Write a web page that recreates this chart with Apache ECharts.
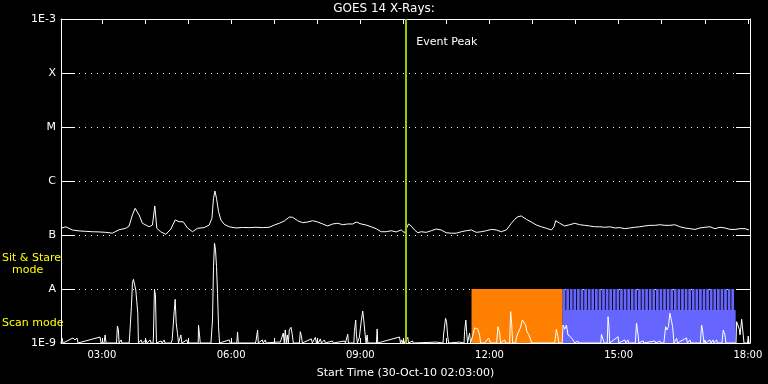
<!DOCTYPE html>
<html><head><meta charset="utf-8">
<script src="https://cdn.jsdelivr.net/npm/echarts@6/dist/echarts.min.js"></script>
<style>html,body{margin:0;padding:0;background:#000;}#c{width:768px;height:384px;}</style>
</head><body><div id="c"></div>
<script>
// ---- data ----
const chartTitle = 'GOES 14 X-Rays:';
const xTitle = 'Start Time (30-Oct-10 02:03:00)';
const yTickLabels = ['1E-9', 'A', 'B', 'C', 'M', 'X', '1E-3'];
const startClock = [2, 3];          // 02:03 UT
const spanMinutes = 960;
const tickHours = [3,4,5,6,7,8,9,10,11,12,13,14,15,16,17,18];
const labelHours = [3,6,9,12,15,18];
const eventMinute = 481;
const eventLabel = 'Event Peak';
const modeLabels = ['Sit & Stare', 'mode', 'Scan mode'];

// long channel: minutes after start, flux in units of 1e-7 W/m2
const fluxMinutes = [0,6.6,15.8,25.1,34.5,43.7,53,62.4,71.6,80.9,90.3,94.9,99.5,103.3,108.8,113.4,118.2,122.8,127.4,130.7,133.5,139.1,146.1,153.1,159.1,164.6,170.2,176.2,183.2,190.2,199.5,206.5,210.3,212.5,214.5,216.7,219.5,222.8,227.4,234.4,243.8,253,262.3,271.7,280.9,290.2,297.2,304.2,311.2,318.1,322.7,329.7,336.7,343.7,350.6,357.6,364.6,371.6,378.5,385.5,392.5,399.5,406.5,411.2,418.2,425.1,432.1,439.1,446.1,453.1,460,467,474,478.6,484.2,487.9,492.5,497.2,501.9,508.9,515.9,522.8,529.8,536.8,543.8,550.7,557.7,564.7,571.7,578.7,585.6,592.6,599.6,606.5,613.5,620.5,627.5,632.1,636.7,641.4,648.4,655.4,662.4,669.3,676.3,683.3,686.9,689.3,694.9,701.8,708.8,715.8,722.8,729.8,736.7,743.7,750.7,757.7,764.6,771.6,778.6,785.6,792.6,799.5,806.5,813.5,820.5,827.4,834.4,841.4,848.4,855.3,862.3,869.3,876.3,883.3,890.2,897.2,904.2,911.2,918.2,925.1,932.1,939.1,946.1,953.1,958.6];
const fluxB = [1.33,1.42,1.24,1.19,1.17,1.15,1.14,1.12,1.08,1.25,1.33,1.47,2.35,3.12,2.35,1.65,1.53,1.42,1.53,3.44,1.33,1.14,1.03,1.29,1.90,1.76,1.76,1.35,1.15,1.33,1.37,1.53,2.04,4.78,6.52,4.78,2.70,1.90,1.58,1.42,1.35,1.38,1.37,1.39,1.37,1.39,1.53,1.65,1.82,2.15,2.13,1.84,1.69,1.74,1.84,1.74,1.60,1.47,1.60,1.65,1.55,1.60,1.60,1.74,1.60,1.53,1.42,1.31,1.15,1.15,1.20,1.14,1.24,1.10,1.60,1.47,1.24,1.10,1.15,1.12,1.20,1.29,1.24,1.10,1.08,1.08,1.15,1.20,1.24,1.12,1.15,1.20,1.27,1.24,1.15,1.24,1.65,1.95,2.18,2.25,1.95,1.74,1.53,1.42,1.33,1.24,1.42,1.84,1.65,1.47,1.55,1.65,1.55,1.51,1.47,1.42,1.42,1.39,1.42,1.35,1.37,1.31,1.35,1.39,1.42,1.47,1.51,1.51,1.55,1.51,1.51,1.55,1.42,1.35,1.31,1.27,1.35,1.39,1.42,1.31,1.39,1.35,1.27,1.27,1.31,1.31,1.24];

// short channel: minutes after start, flux in units of 1e-9 W/m2
const lowMinutes = [0,1.4,2.8,16.7,19.5,22.3,23.7,54.4,55.8,60,61.4,62.8,77.4,78.6,80,80.9,83.7,85.1,94.9,95.9,98.1,99.5,100.9,102.8,104.2,105.6,107,107.9,111.6,113,118.6,120,124.2,125.6,128.4,128.8,130.2,131.6,133,139.5,140.9,143.7,145.1,153.1,154.9,157.7,159.1,160.5,162.3,163.7,167,168.4,175.4,176.5,191.2,191.6,193,194,208.9,211.1,212.5,213.9,215.3,216.7,218.1,219.5,220.9,234.4,235.8,244.9,246,247,270.7,271.7,273.9,274.9,280.5,281.8,284.6,286,300,301.4,305.6,307,309.7,311.1,312.5,313.9,315.3,316.7,318.1,320.5,322.3,323.7,332.1,333.5,334.9,336.3,348.8,350.2,354.4,355.8,357.2,358.6,361.4,362.8,367,368.4,378.1,379.5,394.9,396.3,399.5,400.5,408.1,408.8,410.6,411.6,413,415.1,415.8,418.2,420.4,421.8,423.8,425.1,426.5,427.6,439.5,440.5,441.3,471.6,473,474.4,475.8,477.2,478.6,483.2,484.2,489.8,491.1,523.3,524.6,532.3,533,535.8,537.2,538.6,540,555.3,556.7,561.6,562.3,564.1,565.5,566.5,569.3,570.7,573.5,576.3,578.4,580.5,583.3,584.6,590.2,595.8,597.2,598.6,607,608.8,611.2,612.5,618.1,619.5,625.1,626.5,627.9,629.3,633.5,634.5,636.7,640.1,642.8,644.6,647.4,649.2,652,654.4,655.8,687.9,690.2,692.5,693.5,698.3,699.5,701.8,704.2,706.4,709.8,713.4,715.8,720,721.4,752.1,753,755.3,756.9,761.1,762.2,763.6,764.6,776.2,777.2,785.6,787,789.8,791.2,800.2,801.9,804.1,805.1,811.1,812.1,827.4,828.8,834.4,835.8,840,842.4,844.2,846.3,848.4,850.8,852.2,854,857.8,858.9,871.6,872.7,876.3,877.7,890.9,892.5,893.9,895.8,897.2,898.6,904.2,905.6,908.4,909.8,913.5,914.6,920.9,922.7,925.1,926.5,940.5,941.4,943.7,945.1,946.1,948.4,950.7,951.6,956.5,957.6,958.6];
const lowVals = [1,1.24,1,1.24,1.14,1.24,1,1.29,1,1,1.41,1,1,2.06,1.74,1,1.14,1,1,1.51,4.70,12.8,15.1,14.3,9.58,5.82,3.55,1,1.14,1,1.14,1,1.14,1,1,1.35,9.87,7.74,1,1.09,1,1.14,1,1,1.14,3.80,6.45,2.35,1.51,1,1.41,1,1.14,1,1,2.15,1.41,1,1,2.67,25.9,70.2,52.7,25.9,8.33,2.00,1,1.14,1,1,1.60,1,1,1.09,1.74,1,1.14,1,1.14,1,1.04,1,1.04,1,1.53,1,1.74,1,1.41,1,1.74,1.95,1.41,1,1,1.62,1.35,1,1.19,1,1.27,1,1.14,1,1.19,1,1.14,1,1.09,1,1.09,1,1.45,1,1,1.62,2.67,1.41,1,1,1.29,2.48,3.91,2.67,1.41,1,1.41,1,1,1.82,1,1.29,1,1.14,1,1.19,1,1.27,1,1.09,1,1.04,1,1,1.41,2.87,2.48,1.41,1,1.04,1,1,1.62,2.67,1.41,1,1.53,1,1.35,1.90,1.95,1.82,1.41,1,1,1.24,1.35,1,1,2.00,1.53,1,1.14,1,1,3.80,2.35,1,1,1.24,1.53,1.90,2.67,2.59,2.15,1.62,1.41,1.14,1,1,1.79,1.31,1,1,2.15,1.80,2.15,1.41,1.31,1.14,1,1.09,1,1,1.45,1.41,1,1,3.07,1.90,1,1.31,1,1.14,1,1.14,1,1,2.32,1.41,1,1.10,1,1.09,1,1.09,1,1,2.00,1.74,2.00,3.55,2.48,2.00,1,1.22,1,1.24,1,1.14,1,1,2.15,1.74,1,1.14,1,1.14,1,1.14,1,1.14,1,1,1.74,1.41,1,1,2.48,2.48,1.80,1.41,2.75,1.35,1,1,1.35,1];

// observing modes: [startMin, endMin, lowFlux(1e-9), highFlux(1e-9)]
const sitStareBlocks = [[572, 699, 1, 10]];
const scanBase = [[699, 940, 1, 4.08]];
const scanStripeStarts = [699,704,709,714,719,724,729,734,739,744,749,754,759,764,769,774,779,784,789,794,799,804,809,814,819,824,829,834,839,844,849,854,859,864,869,874,879,884,889,894,899,904,909,914,919,924,929,934];
const scanStripeLen = 3.8;

// ---- build (x = minutes of day) ----
const x0 = startClock[0] * 60 + startClock[1];
const xm = m => x0 + m;
const upperData = fluxMinutes.map((m, i) => [xm(m), fluxB[i] * 1e-7]);
const lowerData = lowMinutes.map((m, i) => [xm(m), lowVals[i] * 1e-9]);
const toRect = b => [xm(b[0]), xm(b[1]), b[2] * 1e-9, b[3] * 1e-9];
const orangeData = sitStareBlocks.map(toRect);
const blueData = scanBase.map(toRect).concat(
  scanStripeStarts.map(s => [xm(s), xm(Math.min(s + scanStripeLen, scanBase[0][1])), 4.08e-9, 1e-8]));

function rectRender(color) {
  return function (params, api) {
    const a = api.coord([api.value(0), api.value(3)]);
    const b = api.coord([api.value(1), api.value(2)]);
    return { type: 'rect', shape: { x: a[0], y: a[1], width: b[0] - a[0], height: b[1] - a[1] },
      style: { fill: color } };
  };
}
const pad = n => (n < 10 ? '0' : '') + n;
const FONT = 'DejaVu Sans';
const chart = echarts.init(document.getElementById('c'));
const yBase = {
  type: 'log', logBase: 10, min: 1e-9, max: 1e-3, interval: 1,
  axisLine: { show: true, lineStyle: { color: '#fff', width: 1 } },
  axisTick: { show: true, inside: true, length: 14, lineStyle: { color: '#fff' } },
};
const xBase = {
  type: 'value', min: xm(0), max: xm(spanMinutes),
  axisLine: { lineStyle: { color: '#fff' } },
  axisTick: { show: true, inside: true, length: 5, lineStyle: { color: '#fff' },
    customValues: tickHours.map(h => h * 60) },
  splitLine: { show: false },
};
chart.setOption({
  animation: false,
  backgroundColor: '#000',
  title: { text: chartTitle, left: 'center', top: 3, padding: 0,
    textStyle: { color: '#fff', fontSize: 12, fontWeight: 'normal', fontFamily: FONT } },
  grid: { left: 61, right: 18, top: 19, bottom: 41, containLabel: false },
  xAxis: [Object.assign({}, xBase, {
    position: 'bottom',
    axisLabel: { color: '#fff', fontSize: 10, fontFamily: FONT, margin: 7,
      customValues: labelHours.map(h => h * 60),
      formatter: v => pad(Math.round(v / 60)) + ':00' },
    name: xTitle, nameLocation: 'middle', nameGap: 25,
    nameTextStyle: { color: '#fff', fontSize: 11, fontFamily: FONT }
  }), Object.assign({}, xBase, {
    position: 'top', axisLabel: { show: false }
  })],
  yAxis: [Object.assign({}, yBase, {
    position: 'left',
    splitLine: { show: true, lineStyle: { color: '#fff', type: [1, 5], width: 1 } },
    axisLabel: { color: '#fff', fontSize: 11, fontFamily: FONT, margin: 5,
      formatter: v => yTickLabels[Math.round(Math.log10(v)) + 9] }
  }), Object.assign({}, yBase, {
    position: 'right', splitLine: { show: false }, axisLabel: { show: false }
  })],
  series: [
    { type: 'custom', renderItem: rectRender('#ff8000'), data: orangeData,
      encode: { x: [0, 1], y: [2, 3] }, z: 1, silent: true, clip: true },
    { type: 'custom', renderItem: rectRender('#6666ff'), data: blueData,
      encode: { x: [0, 1], y: [2, 3] }, z: 1, silent: true, clip: true },
    { type: 'line', data: lowerData, showSymbol: false, symbol: 'none', z: 3, silent: true,
      lineStyle: { color: '#fff', width: 1 } },
    { type: 'line', data: upperData, showSymbol: false, symbol: 'none', z: 3, silent: true,
      lineStyle: { color: '#fff', width: 1 },
      markLine: { silent: true, symbol: 'none', label: { show: false },
        lineStyle: { color: '#99cc00', width: 2, type: 'solid' },
        data: [{ xAxis: xm(eventMinute) }] } }
  ]
});
const ex = chart.convertToPixel({ xAxisIndex: 0 }, xm(eventMinute));
chart.setOption({ graphic: [
  { type: 'text', left: ex + 10, top: 37, style: { text: eventLabel, fill: '#fff', font: '11px ' + FONT } },
  { type: 'text', left: 2, top: 253, style: { text: modeLabels[0], fill: '#ffff00', font: '11px ' + FONT } },
  { type: 'text', left: 12, top: 265, style: { text: modeLabels[1], fill: '#ffff00', font: '11px ' + FONT } },
  { type: 'text', left: 2, top: 318, style: { text: modeLabels[2], fill: '#ffff00', font: '11px ' + FONT } }
] });
</script></body></html>
